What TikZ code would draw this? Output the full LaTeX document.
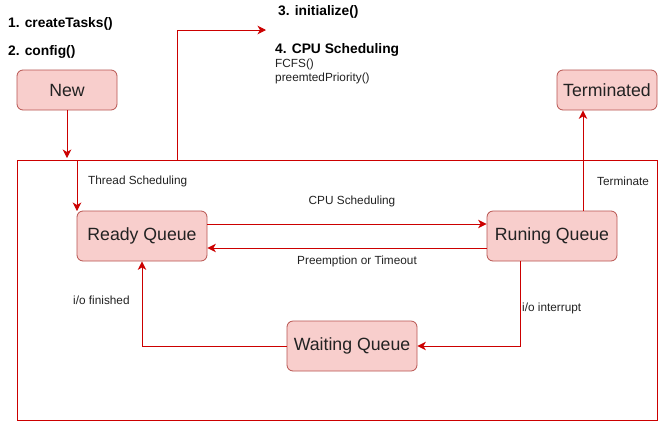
\documentclass[tikz,border=0pt]{standalone}
\usepackage{fontspec}
\setmainfont{Liberation Sans}
\usetikzlibrary{arrows.meta}
\definecolor{boxfill}{HTML}{F8CECC}
\definecolor{boxline}{HTML}{B85450}
\definecolor{wire}{HTML}{CC0000}
\definecolor{ink}{HTML}{222222}
\begin{document}
\begin{tikzpicture}[x=1pt,y=-1pt,
  state/.style={draw=boxline, fill=boxfill, rounded corners=6pt, minimum width=130pt, minimum height=50pt, inner sep=0pt, font=\fontsize{17.7}{20}\selectfont, text=ink, line width=0.8pt},
  small/.style={state, minimum width=100pt, minimum height=40pt},
  lbl/.style={inner sep=0pt, font=\fontsize{11.8}{13}\selectfont, text=ink},
  hdr/.style={inner sep=0pt, font=\fontsize{13.8}{15}\selectfont\bfseries, text=black},
  note/.style={inner sep=0pt, font=\fontsize{11.8}{13}\selectfont, text=ink},
  arr/.style={draw=wire, line width=1pt, -{Stealth[length=8.5pt,width=8.5pt,inset=2.5pt]}},
  frame/.style={draw=wire, line width=1pt, minimum width=640pt, minimum height=260pt, inner sep=0pt}]
\useasboundingbox (0,0) rectangle (658,421);
\fill[white] (0,0) rectangle (658,421);
% outer frame
\node[frame] (frame) at (337,290) {};
% states
\node[small] (new) at (67,90) {New};
\node[small] (term) at (607,90) {Terminated};
\node[state] (ready) at (142,236) {Ready Queue};
\node[state] (run) at (552,236) {Runing Queue};
\node[state] (wait) at (352,346) {Waiting Queue};
% free ends
\coordinate (newend) at (67,158);
\coordinate (tsstart) at (77,160);
\coordinate (tsend) at (77,211);
\coordinate (initstart) at (177,160);
\coordinate (initend) at (266,30);
% connectors
\draw[arr] (new.south) -- (newend);
\draw[arr] (tsstart) -- (tsend);
\draw[arr] (initstart) |- (initend);
\draw[arr] ([xshift=31pt]run.north) -- ([xshift=31pt]run.north |- term.south);
\draw[arr] ([yshift=12pt]ready.east) -- ([yshift=12pt]run.west);
\draw[arr] ([yshift=-12pt]run.west) -- ([yshift=-12pt]ready.east);
\draw[arr] ([xshift=-32pt]run.south) |- (wait.east);
\draw[arr] (wait.west) -| (ready.south);
% connector labels
\node[lbl, anchor=west] (lts) at (88,181) {Thread Scheduling};
\node[lbl, anchor=west] (lterm) at (597,181) {Terminate};
\node[lbl] (lcpu) at (352,201) {CPU Scheduling};
\node[lbl] (lpre) at (357,261) {Preemption or Timeout};
\node[lbl, anchor=west] (lint) at (522,308) {i/o interrupt};
\node[lbl, anchor=west] (lfin) at (73,300) {i/o finished};
% top texts
\node[hdr, anchor=west] (t1) at (8,24) {1. createTasks()};
\node[hdr, anchor=west] (t2) at (8,52) {2. config()};
\node[hdr, anchor=west] (t3) at (278,12) {3. initialize()};
\node[hdr, anchor=west] (t4) at (275,50) {4. CPU Scheduling};
\node[note, anchor=west] (t5) at (275,64) {FCFS()};
\node[note, anchor=west] (t6) at (275,78) {preemtedPriority()};
\end{tikzpicture}
\end{document}
